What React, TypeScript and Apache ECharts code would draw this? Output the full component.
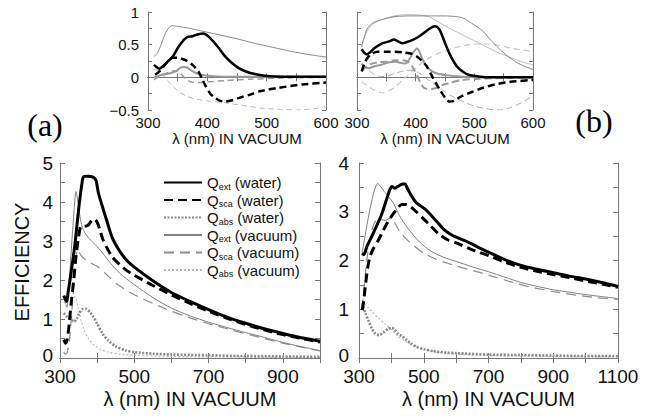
import React, { useEffect, useRef } from 'react';
import * as echarts from 'echarts';

type P = [number, number][];

// ---------- axis ticks ----------
const insetXTicks = [300, 600, 50];
const insetYTicks = [-0.5, 1, 0.25];
const mainAXTicks = [300, 1000, 100];
const mainAYTicks = [0, 5, 0.5];
const mainBXTicks = [300, 1100, 100];
const mainBYTicks = [0, 4, 0.5];

// ---------- legend names ----------
const legendNames = ['Qext (water)', 'Qsca (water)', 'Qabs (water)', 'Qext (vacuum)', 'Qsca (vacuum)', 'Qabs (vacuum)'];

// ---------- main panel (a) ----------
const extW_A: P = [[310,1.6],[315,1.5],[318,1.45],[322,1.7],[330,2.2],[340,2.9],[350,3.8],[358,4.4],[363,4.64],[375,4.66],[390,4.63],[397,4.55],[403,4.25],[412,3.95],[425,3.55],[440,3.1],[460,2.75],[480,2.5],[500,2.33],[550,1.98],[600,1.68],[650,1.45],[700,1.24],[750,1.05],[800,0.89],[850,0.75],[900,0.63],[950,0.52],[1000,0.43]];
const scaW_A: P = [[310,0.47],[315,0.38],[320,0.5],[325,0.9],[330,1.4],[337,2.0],[343,2.6],[350,3.1],[357,3.38],[365,3.38],[375,3.4],[385,3.52],[393,3.56],[400,3.48],[407,3.3],[415,3.05],[425,2.85],[440,2.6],[460,2.4],[480,2.24],[500,2.12],[550,1.86],[600,1.62],[650,1.4],[700,1.2],[750,1.02],[800,0.86],[850,0.72],[900,0.6],[950,0.5],[1000,0.41]];
const absW_A: P = [[310,1.15],[320,1.05],[330,0.98],[338,0.93],[345,1.0],[352,1.15],[360,1.25],[370,1.26],[380,1.18],[390,1.05],[400,0.88],[415,0.62],[430,0.45],[450,0.3],[475,0.2],[500,0.15],[550,0.11],[600,0.09],[700,0.07],[800,0.05],[900,0.04],[1000,0.03]];
const extV_A: P = [[310,1.55],[315,1.4],[319,1.3],[325,2.0],[332,3.0],[338,3.8],[343,4.27],[350,3.9],[355,3.55],[362,3.3],[375,3.1],[390,2.95],[410,2.75],[430,2.5],[460,2.18],[500,1.88],[550,1.55],[600,1.28],[650,1.08],[700,0.92],[750,0.78],[800,0.65],[850,0.53],[900,0.4],[950,0.29],[1000,0.19]];
const scaV_A: P = [[310,0.15],[315,0.1],[320,0.15],[327,0.6],[335,1.6],[342,2.5],[348,2.78],[355,2.65],[365,2.55],[380,2.45],[400,2.35],[430,2.1],[460,1.85],[500,1.62],[550,1.4],[600,1.2],[650,1.03],[700,0.88],[750,0.75],[800,0.62],[850,0.5],[900,0.38],[950,0.28],[1000,0.18]];
const absV_A: P = [[310,1.42],[320,1.48],[330,1.55],[337,1.58],[343,1.52],[350,1.25],[357,0.95],[365,0.72],[375,0.52],[390,0.35],[410,0.22],[430,0.15],[460,0.1],[500,0.07],[600,0.04],[800,0.02],[1000,0.01]];

// ---------- main panel (b) ----------
const extW_B: P = [[310,2.15],[315,2.12],[325,2.3],[340,2.5],[355,2.72],[370,2.95],[385,3.25],[395,3.45],[402,3.52],[410,3.48],[420,3.52],[435,3.57],[442,3.57],[450,3.47],[460,3.35],[475,3.2],[490,3.12],[505,3.05],[520,2.95],[540,2.8],[560,2.65],[580,2.55],[600,2.48],[630,2.4],[660,2.3],[700,2.17],[750,2.02],[800,1.9],[850,1.82],[900,1.75],[950,1.68],[1000,1.62],[1050,1.55],[1100,1.47]];
const scaW_B: P = [[310,0.98],[315,1.2],[320,1.5],[328,1.9],[335,2.1],[345,2.25],[360,2.42],[375,2.62],[390,2.8],[405,2.95],[420,3.08],[432,3.15],[445,3.15],[460,3.1],[480,2.98],[500,2.85],[520,2.72],[545,2.55],[575,2.42],[600,2.36],[650,2.22],[700,2.1],[750,1.97],[800,1.86],[850,1.78],[900,1.71],[950,1.65],[1000,1.58],[1050,1.52],[1100,1.45]];
const absW_B: P = [[310,1.12],[320,0.92],[330,0.75],[340,0.6],[350,0.5],[362,0.47],[375,0.52],[390,0.6],[402,0.62],[410,0.58],[420,0.5],[432,0.45],[445,0.38],[460,0.3],[480,0.22],[500,0.18],[530,0.14],[570,0.11],[600,0.1],[700,0.07],[800,0.06],[900,0.05],[1000,0.04],[1100,0.04]];
const extV_B: P = [[310,2.15],[358,3.58],[380,3.4],[404,3.2],[425,2.92],[450,2.67],[487,2.38],[520,2.2],[560,2.07],[600,1.98],[650,1.87],[700,1.77],[750,1.66],[800,1.55],[850,1.47],[900,1.4],[950,1.35],[1000,1.3],[1050,1.26],[1100,1.22]];
const scaV_B: P = [[310,1.0],[320,1.75],[330,2.3],[340,2.62],[350,2.8],[365,2.85],[380,2.82],[393,2.86],[400,2.88],[410,2.78],[425,2.6],[445,2.45],[470,2.3],[500,2.15],[540,2.02],[580,1.93],[620,1.85],[670,1.76],[720,1.66],[770,1.56],[820,1.47],[870,1.4],[920,1.34],[970,1.29],[1030,1.24],[1100,1.2]];
const absV_B: P = [[310,1.18],[325,1.05],[340,0.95],[360,0.82],[380,0.7],[400,0.58],[420,0.45],[440,0.35],[470,0.25],[500,0.18],[550,0.11],[600,0.08],[700,0.05],[800,0.04],[900,0.03],[1100,0.02]];

// ---------- inset (a) ----------
const insA_thin: P = [[310,0.32],[315,0.36],[320,0.45],[326,0.6],[332,0.72],[340,0.79],[350,0.78],[370,0.75],[390,0.71],[420,0.65],[450,0.59],[480,0.52],[510,0.46],[540,0.4],[570,0.35],[600,0.31]];
const insA_black: P = [[310,0.19],[314,0.16],[319,0.13],[325,0.17],[333,0.24],[342,0.32],[351,0.46],[360,0.57],[367,0.62],[375,0.63],[385,0.66],[393,0.67],[400,0.64],[410,0.55],[420,0.44],[430,0.32],[440,0.23],[453,0.14],[465,0.09],[480,0.05],[500,0.02],[530,0.01],[600,0.01]];
const insA_blackDash: P = [[312,0.04],[318,0.08],[325,0.15],[333,0.24],[341,0.3],[350,0.3],[358,0.28],[366,0.25],[375,0.19],[385,0.09],[391,-0.02],[397,-0.13],[405,-0.25],[414,-0.32],[422,-0.36],[430,-0.37],[442,-0.35],[455,-0.31],[470,-0.27],[490,-0.21],[520,-0.16],[560,-0.11],[600,-0.08]];
const insA_gray: P = [[310,0.0],[320,0.03],[330,0.05],[340,0.07],[348,0.1],[355,0.15],[360,0.16],[366,0.15],[372,0.11],[380,0.07],[390,0.04],[405,0.02],[430,0.01],[600,0.01]];
const insA_grayDash: P = [[310,-0.04],[322,0.03],[335,0.08],[345,0.1],[352,0.08],[358,0.03],[364,-0.03],[372,-0.07],[385,-0.08],[400,-0.07],[430,-0.05],[470,-0.03],[530,-0.01],[600,0.0]];
const insA_lightDash: P = [[310,0.12],[318,0.1],[326,0.03],[334,-0.06],[342,-0.14],[352,-0.22],[365,-0.29],[380,-0.33],[400,-0.36],[430,-0.39],[460,-0.43],[490,-0.47],[520,-0.49],[550,-0.5],[580,-0.48],[600,-0.45]];

// ---------- inset (b) ----------
const insB_thin: P = [[308,0.47],[312,0.6],[317,0.74],[325,0.82],[337,0.87],[350,0.9],[365,0.93],[390,0.94],[420,0.94],[450,0.94],[468,0.93],[480,0.91],[490,0.86],[500,0.8],[513,0.72],[527,0.58],[542,0.44],[556,0.33],[570,0.24],[585,0.17],[600,0.12]];
const insB_light: P = [[308,0.47],[312,0.6],[318,0.72],[328,0.82],[340,0.88],[355,0.92],[370,0.95],[390,0.96],[410,0.95],[422,0.93],[440,0.84],[460,0.74],[480,0.65],[500,0.56],[520,0.47],[540,0.38],[560,0.31],[580,0.24],[600,0.19]];
const insB_black: P = [[308,0.43],[312,0.38],[317,0.35],[322,0.38],[330,0.45],[343,0.52],[355,0.55],[363,0.58],[370,0.55],[377,0.52],[385,0.54],[394,0.57],[403,0.61],[411,0.66],[420,0.72],[428,0.77],[433,0.78],[440,0.74],[446,0.62],[452,0.48],[460,0.32],[470,0.17],[480,0.09],[490,0.04],[502,0.02],[520,0.0],[600,0.0]];
const insB_blackDash: P = [[308,0.09],[313,0.22],[318,0.3],[325,0.36],[335,0.39],[350,0.39],[365,0.39],[380,0.38],[393,0.36],[402,0.32],[410,0.26],[418,0.18],[426,0.05],[434,-0.08],[442,-0.2],[450,-0.31],[457,-0.37],[465,-0.36],[480,-0.28],[497,-0.22],[515,-0.16],[535,-0.11],[560,-0.07],[600,-0.04]];
const insB_gray: P = [[308,0.21],[314,0.16],[320,0.14],[330,0.17],[340,0.19],[355,0.23],[365,0.24],[375,0.22],[383,0.21],[390,0.29],[396,0.38],[402,0.44],[406,0.4],[411,0.29],[418,0.18],[428,0.09],[440,0.05],[455,0.03],[480,0.01],[520,0.0],[600,0.0]];
const insB_grayDash: P = [[308,0.09],[315,0.16],[322,0.2],[335,0.23],[350,0.24],[365,0.26],[378,0.26],[390,0.22],[397,0.12],[403,0.02],[408,-0.08],[414,-0.16],[422,-0.18],[432,-0.17],[445,-0.12],[460,-0.08],[480,-0.04],[510,-0.02],[560,-0.01],[600,0.0]];
const insB_midDash: P = [[308,0.19],[318,0.12],[328,0.05],[340,0.01],[352,0.02],[365,0.06],[380,0.1],[394,0.11],[405,0.07],[417,-0.01],[430,-0.09],[445,-0.19],[460,-0.28],[480,-0.37],[500,-0.44],[520,-0.48],[540,-0.5],[560,-0.47],[580,-0.39],[600,-0.28]];
const insB_lightDash: P = [[308,-0.07],[318,-0.13],[328,-0.19],[343,-0.24],[355,-0.2],[366,-0.14],[380,-0.02],[394,0.09],[408,0.2],[422,0.29],[440,0.37],[462,0.44],[485,0.49],[508,0.51],[525,0.51],[542,0.49],[560,0.45],[580,0.42],[600,0.4]];

const FONT = "'Liberation Sans', Arial, Helvetica, sans-serif";
const AXC = '#777';

export default function App() {
  const ref = useRef<HTMLDivElement>(null);
  useEffect(() => {
    const chart = echarts.init(ref.current!, null, { renderer: 'svg' });

    const grids = [
      { left: 148, top: 12, width: 178, height: 98 },
      { left: 357, top: 12, width: 176, height: 98 },
      { left: 60, top: 163, width: 260, height: 195 },
      { left: 359, top: 163, width: 259, height: 195 },
    ];

    const xAxes: any[] = [];
    const yAxes: any[] = [];
    const mkAxes = (gi: number, xt: number[], yt: number[], o: any) => {
      const line = { show: true, lineStyle: { color: AXC, width: 1 } };
      const tick = { show: true, inside: true, length: o.tl, lineStyle: { color: AXC } };
      xAxes.push({
        type: 'value', gridIndex: gi, position: 'bottom', min: xt[0], max: xt[1], interval: xt[2],
        axisLine: line, axisTick: tick, splitLine: { show: false },
        axisLabel: { show: true, fontSize: o.fs, fontFamily: FONT, color: '#111', margin: o.xm, formatter: o.xf, showMinLabel: true, showMaxLabel: true },
        name: 'λ (nm) IN VACUUM', nameLocation: 'middle', nameGap: o.ng,
        nameTextStyle: { fontSize: o.nfs, fontFamily: FONT, color: '#111' },
      });
      xAxes.push({
        type: 'value', gridIndex: gi, position: 'top', min: xt[0], max: xt[1], interval: xt[2],
        axisLine: line, axisTick: tick, splitLine: { show: false }, axisLabel: { show: false },
      });
      yAxes.push({
        type: 'value', gridIndex: gi, position: 'left', min: yt[0], max: yt[1], interval: yt[2],
        axisLine: line, axisTick: tick, splitLine: { show: false },
        axisLabel: {
          show: o.yl, fontSize: o.fs, fontFamily: FONT, color: '#111', margin: o.ym, formatter: o.yf,
          showMinLabel: true, showMaxLabel: true,
          rich: { z: { fontSize: o.fs, fontFamily: FONT, color: '#111', padding: [0, 0, 6, 0] } },
        },
      });
      yAxes.push({
        type: 'value', gridIndex: gi, position: 'right', min: yt[0], max: yt[1], interval: yt[2],
        axisLine: line, axisTick: tick, splitLine: { show: false }, axisLabel: { show: false },
      });
    };
    const insetXF = (v: number) => (v % 100 === 0 ? String(v) : '');
    const insetYF = (v: number) => (v % 0.5 === 0 ? (v < 0 ? '\u2212' + String(-v) : String(v)) : '');
    const mainXF = (v: number) => ((v - 300) % 200 === 0 ? String(v) : '');
    const mainYF = (v: number) => (v === 0 ? '{z|0}' : Number.isInteger(v) ? String(v) : '');

    mkAxes(0, insetXTicks, insetYTicks, { tl: 4, fs: 15, xm: 5, ym: 9, xf: insetXF, yf: insetYF, yl: true, ng: 21, nfs: 15 });
    mkAxes(1, insetXTicks, insetYTicks, { tl: 4, fs: 15, xm: 5, ym: 9, xf: insetXF, yf: insetYF, yl: false, ng: 21, nfs: 15 });
    mkAxes(2, mainAXTicks, mainAYTicks, { tl: 5, fs: 19, xm: 9, ym: 7, xf: mainXF, yf: mainYF, yl: true, ng: 31, nfs: 20 });
    mkAxes(3, mainBXTicks, mainBYTicks, { tl: 5, fs: 19, xm: 9, ym: 10, xf: mainXF, yf: mainYF, yl: true, ng: 31, nfs: 20 });

    const series: any[] = [];
    const add = (gi: number, name: string, data: P, color: string, width: number, type: any) => {
      series.push({
        type: 'line', name, data, xAxisIndex: gi * 2, yAxisIndex: gi * 2,
        symbol: 'none', smooth: 0.25, clip: true,
        lineStyle: { color, width, type },
        itemStyle: { color },
        emphasis: { disabled: true },
      });
    };

    // insets
    add(0, 'a_lightDash', insA_lightDash, '#b5b5b5', 1, [5, 4]);
    add(0, 'a_grayDash', insA_grayDash, '#999', 1.5, [6, 4]);
    add(0, 'a_thin', insA_thin, '#888', 1, 'solid');
    add(0, 'a_gray', insA_gray, '#999', 2, 'solid');
    add(0, 'a_blackDash', insA_blackDash, '#000', 2.5, [7, 4]);
    add(0, 'a_black', insA_black, '#000', 2.5, 'solid');

    add(1, 'b_lightDash', insB_lightDash, '#c8c8c8', 1.2, [6, 4]);
    add(1, 'b_midDash', insB_midDash, '#aaa', 1, [6, 4]);
    add(1, 'b_light', insB_light, '#bbb', 1, 'solid');
    add(1, 'b_thin', insB_thin, '#888', 1, 'solid');
    add(1, 'b_grayDash', insB_grayDash, '#999', 2, [7, 4]);
    add(1, 'b_gray', insB_gray, '#999', 2, 'solid');
    add(1, 'b_blackDash', insB_blackDash, '#000', 2.5, [7, 4]);
    add(1, 'b_black', insB_black, '#000', 2.5, 'solid');

    // main panels
    const mainSets: [number, P[]][] = [
      [2, [extW_A, scaW_A, absW_A, extV_A, scaV_A, absV_A]],
      [3, [extW_B, scaW_B, absW_B, extV_B, scaV_B, absV_B]],
    ];
    const styles: [string, number, any][] = [
      ['#000', 3, 'solid'],
      ['#000', 3, [9, 5]],
      ['#8a8a8a', 2.6, [2, 1.5]],
      ['#808080', 1, 'solid'],
      ['#8c8c8c', 1.2, [10, 6]],
      ['#b8b8b8', 1.2, [2, 2]],
    ];
    const order = [5, 4, 3, 2, 1, 0];
    for (const [gi, sets] of mainSets) {
      for (const k of order) {
        add(gi, legendNames[k], sets[k], styles[k][0], styles[k][1], styles[k][2]);
      }
    }

    const sub: Record<string, [string, string]> = {
      'Qext (water)': ['ext', '(water)'],
      'Qsca (water)': ['sca', '(water)'],
      'Qabs (water)': ['abs', '(water)'],
      'Qext (vacuum)': ['ext', '(vacuum)'],
      'Qsca (vacuum)': ['sca', '(vacuum)'],
      'Qabs (vacuum)': ['abs', '(vacuum)'],
    };

    chart.setOption({
      animation: false,
      backgroundColor: '#fff',
      grid: grids.map((g) => ({ ...g, containLabel: false })),
      xAxis: xAxes,
      yAxis: yAxes,
      series,
      legend: {
        data: legendNames,
        orient: 'vertical',
        left: 158,
        top: 170,
        itemWidth: 38,
        itemHeight: 14,
        itemGap: 1.5,
        selectedMode: false,
        itemStyle: { color: 'rgba(0,0,0,0)', borderWidth: 0, opacity: 0 },
        formatter: (name: string) => `{q|Q}{s|${sub[name][0]}}{t| ${sub[name][1]}}`,
        textStyle: {
          fontFamily: FONT,
          fontSize: 15,
          color: '#111',
          rich: {
            q: { fontFamily: FONT, fontSize: 15, color: '#111' },
            s: { fontFamily: FONT, fontSize: 9, color: '#111', padding: [8, 0, 0, 0] },
            t: { fontFamily: FONT, fontSize: 15, color: '#111' },
          },
        },
      },
      graphic: [
        { type: 'text', x: 45, y: 125, style: { text: '(a)', font: "32px 'Liberation Serif', 'Times New Roman', serif", fill: '#000', align: 'center', verticalAlign: 'middle' } },
        { type: 'text', x: 594, y: 121, style: { text: '(b)', font: "32px 'Liberation Serif', 'Times New Roman', serif", fill: '#000', align: 'center', verticalAlign: 'middle' } },
        { type: 'text', x: 22, y: 262, rotation: Math.PI / 2, style: { text: 'EFFICIENCY', font: `20px ${FONT}`, fill: '#111', align: 'center', verticalAlign: 'middle' } },
      ],
    });
    return () => chart.dispose();
  }, []);
  return <div ref={ref} style={{ position: 'absolute', left: 0, top: 0, width: 662, height: 418, background: '#fff' }} />;
}
